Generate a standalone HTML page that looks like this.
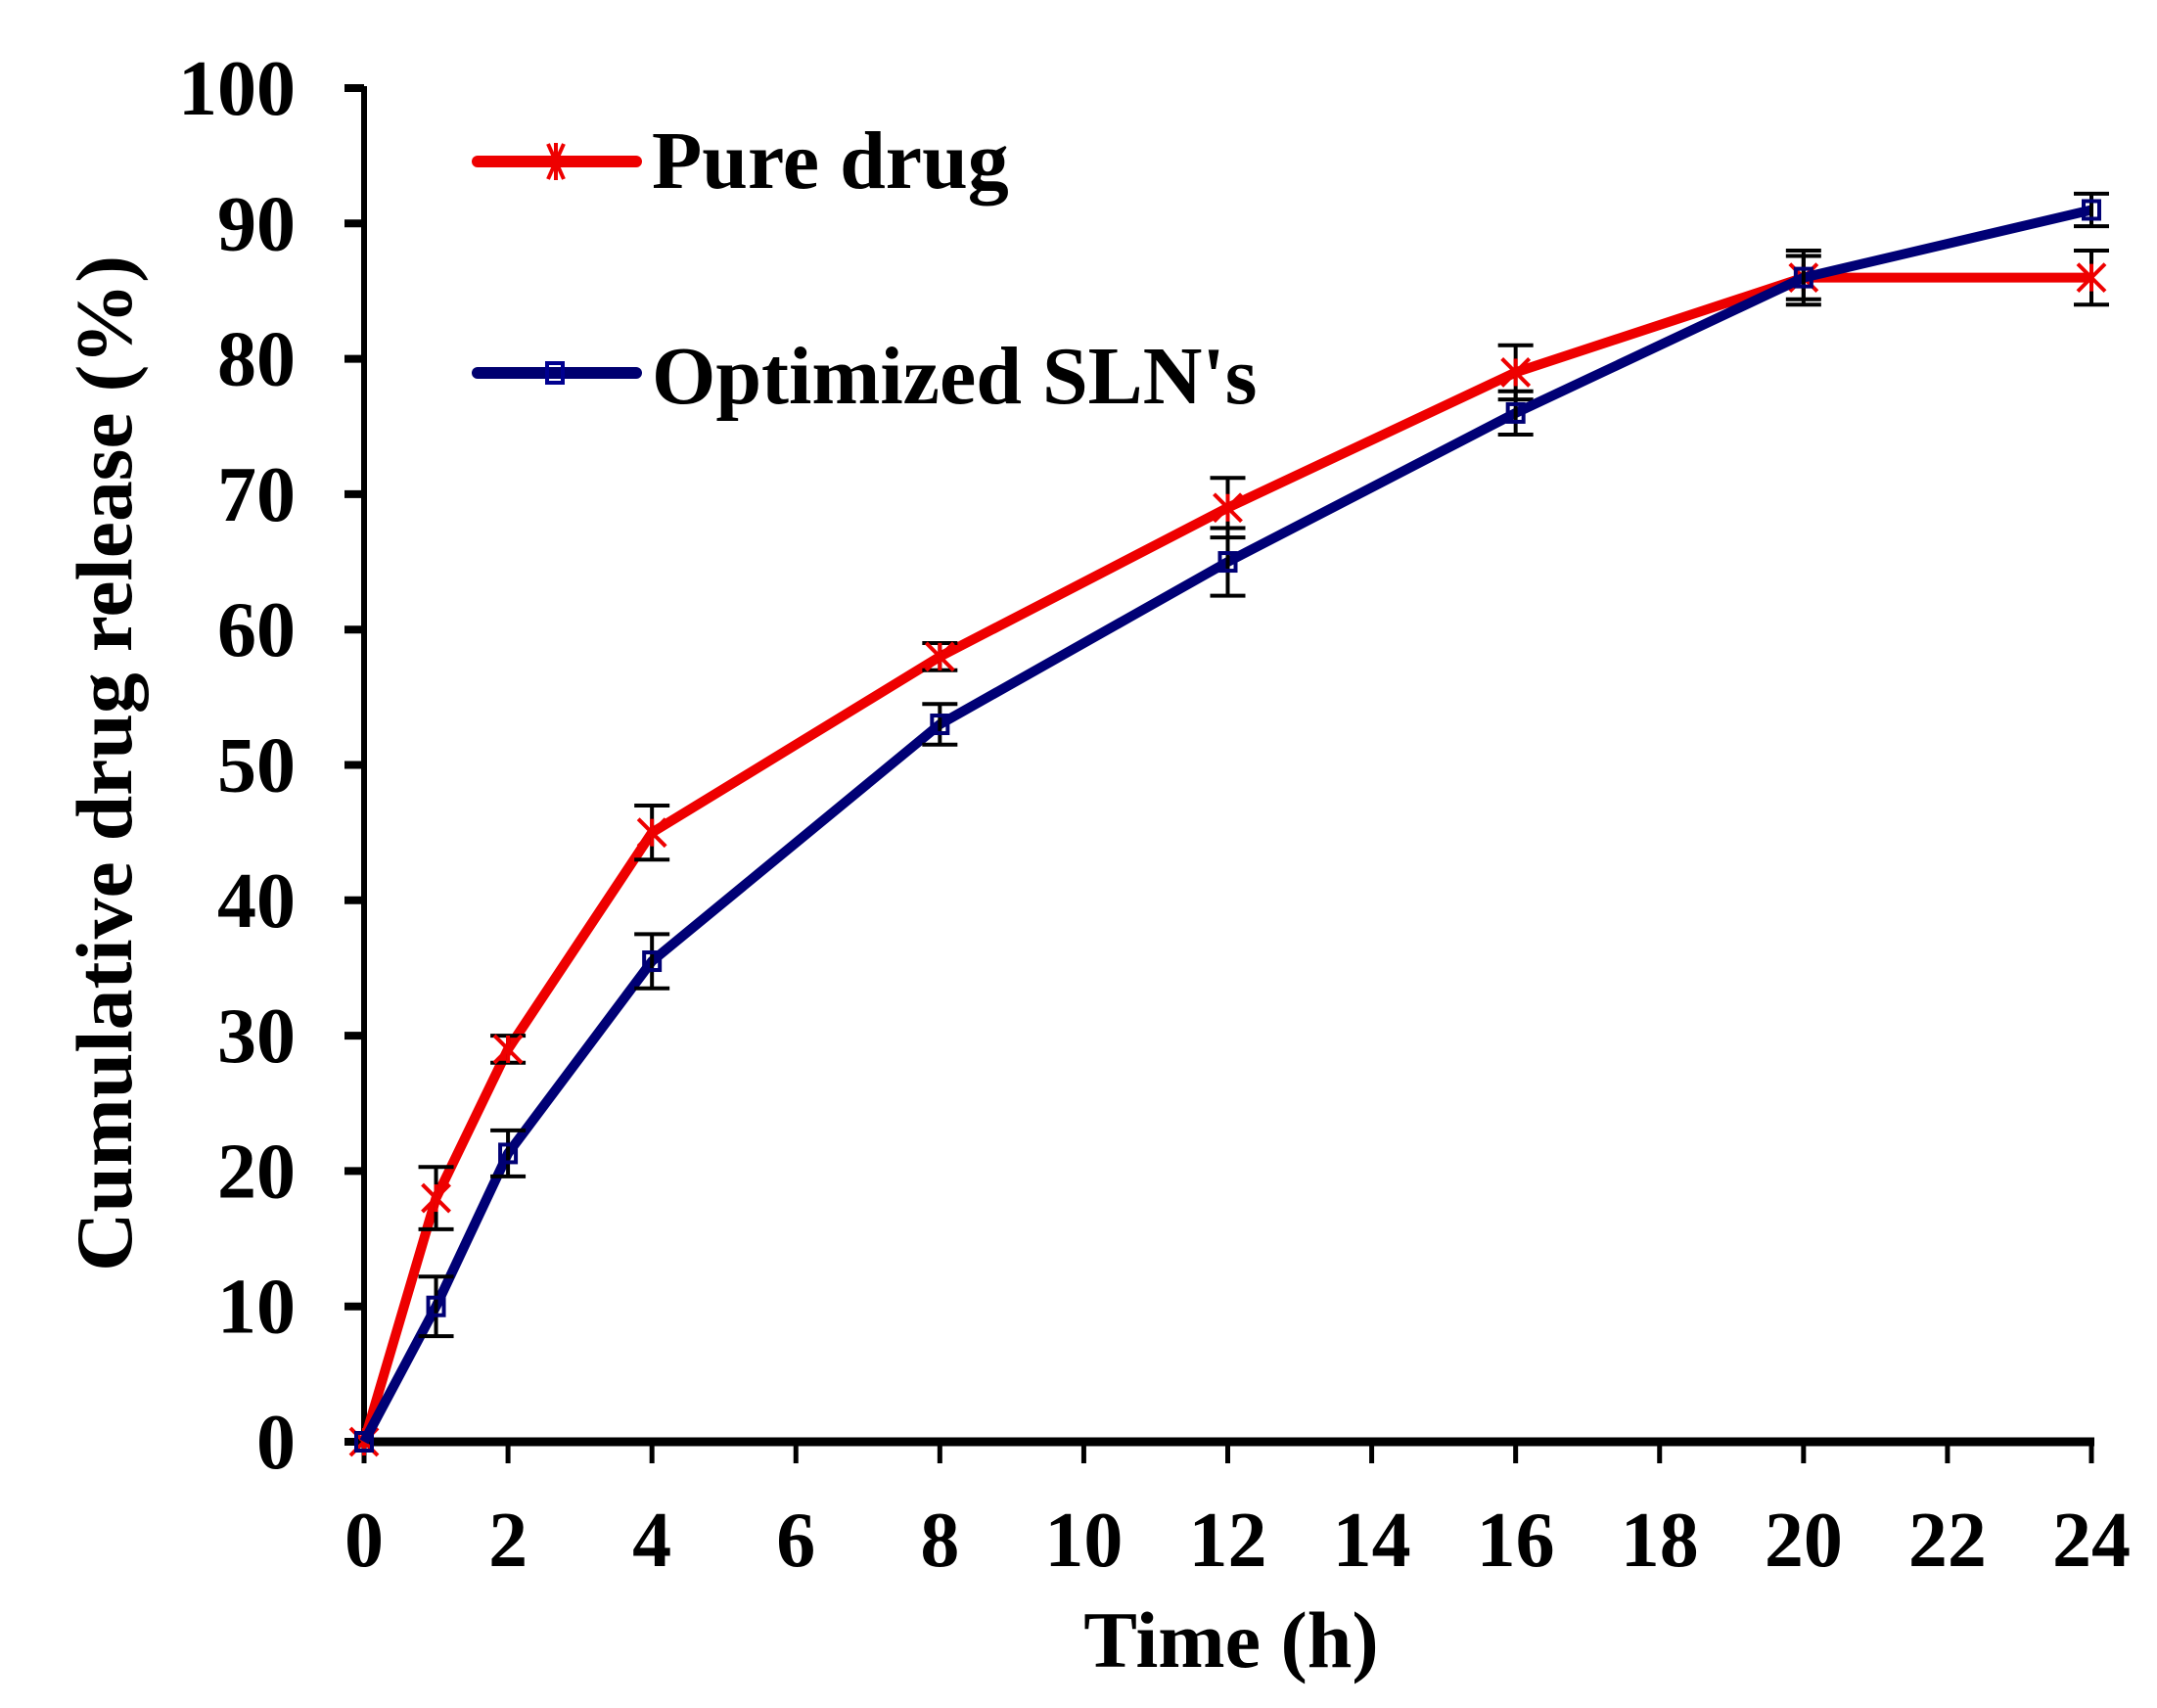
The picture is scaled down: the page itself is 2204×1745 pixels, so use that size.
<!DOCTYPE html>
<html><head><meta charset="utf-8"><style>
html,body{margin:0;padding:0;background:#fff;}
svg{display:block;}
text{font-family:"Liberation Serif",serif;font-weight:bold;fill:#000;}
</style></head><body>
<svg id="chart" width="2204" height="1745" viewBox="0 0 2204 1745" xmlns="http://www.w3.org/2000/svg">
<g id="axes"></g>
<g id="series"></g>
<g id="legend">
  <line x1="488" y1="165" x2="650" y2="165" stroke="#ee0000" stroke-width="12" stroke-linecap="round"/>
  <g stroke="#ee0000" stroke-width="4">
    <line x1="560" y1="147" x2="576" y2="183"/><line x1="576" y1="147" x2="560" y2="183"/><line x1="568" y1="146" x2="568" y2="184"/>
  </g>
  <text x="666" y="192" font-size="84">Pure drug</text>
  <line x1="488" y1="381" x2="650" y2="381" stroke="#000070" stroke-width="12" stroke-linecap="round"/>
  <rect x="559" y="371" width="16" height="20" fill="none" stroke="#000090" stroke-width="4"/>
  <text x="666" y="412" font-size="84">Optimized SLN's</text>
</g>
</svg>
<script>
const times = [0, 1, 2, 4, 8, 12, 16, 20, 24];
const pureValues = [0, 18, 29, 45, 58, 69, 79, 86, 86];
const pureErrors = [0, 2.3, 1, 2, 1, 2.2, 2, 2, 2];
const slnValues = [0, 10, 21.3, 35.5, 53, 65, 76, 86, 91];
const slnErrors = [0, 2.2, 1.7, 2, 1.5, 2.5, 1.6, 1.6, 1.2];
const xTicks = [0, 2, 4, 6, 8, 10, 12, 14, 16, 18, 20, 22, 24];
const yTicks = [0, 10, 20, 30, 40, 50, 60, 70, 80, 90, 100];

const NS = 'http://www.w3.org/2000/svg';
const X0 = 372, X1 = 2137, Y0 = 1473, Y1 = 90;
function xs(v){ return X0 + (v - 0) / 24 * (X1 - X0); }
function ys(v){ return Y0 - v / 100 * (Y0 - Y1); }
function mk(tag, attrs, parent){
  const el = document.createElementNS(NS, tag);
  for (const k in attrs) el.setAttribute(k, attrs[k]);
  parent.appendChild(el);
  return el;
}
const axes = document.getElementById('axes');
const series = document.getElementById('series');

let el = mk('line', {x1: X0, y1: Y1 - 2, x2: X0, y2: Y0 + 4, stroke: '#000', 'stroke-width': 6}, axes);


el = mk('line', {x1: X0 - 6, y1: Y0, x2: xs(24) + 3, y2: Y0, stroke: '#000', 'stroke-width': 9}, axes);



yTicks.forEach(t => {
  const y = ys(t);
  let tk = mk('line', {x1: X0 - 20, y1: y, x2: X0, y2: y, stroke: '#000', 'stroke-width': 8}, axes);
  
  
  let lb = mk('text', {x: 302, y: y + 27, 'font-size': 80, 'text-anchor': 'end'}, axes);
  lb.textContent = t;
  
  
});
xTicks.forEach(t => {
  const x = xs(t);
  let tk = mk('line', {x1: x, y1: Y0, x2: x, y2: Y0 + 22, stroke: '#000', 'stroke-width': 5}, axes);
  
  
  let lb = mk('text', {x: x, y: 1600, 'font-size': 80, 'text-anchor': 'middle'}, axes);
  lb.textContent = t;
  
  
});
el = mk('text', {x: 1258, y: 1703, 'font-size': 82, 'text-anchor': 'middle'}, axes);
el.textContent = 'Time (h)';


el = mk('text', {x: 0, y: 0, 'font-size': 82, 'text-anchor': 'middle', transform: 'translate(134,780) rotate(-90)', textLength: 1038, lengthAdjust: 'spacingAndGlyphs'}, axes);
el.textContent = 'Cumulative drug release (%)';



function drawSeries(vals, errs, color, name, marker){
  const g = mk('g', {}, series);
  
  
  const pts = times.map((t, i) => xs(t) + ',' + ys(vals[i])).join(' ');
  const pl = mk('polyline', {points: pts, fill: 'none', stroke: color, 'stroke-width': 10, 'stroke-linejoin': 'round'}, g);
  
  
  times.forEach((t, i) => {
    const x = xs(t), y = ys(vals[i]);
    if (errs[i] > 0){
      const eg = mk('g', {stroke: '#000', 'stroke-width': 4}, g);
      
      
      const yt = ys(vals[i] + errs[i]), yb = ys(vals[i] - errs[i]);
      mk('line', {x1: x, y1: yt, x2: x, y2: yb}, eg);
      mk('line', {x1: x - 18, y1: yt, x2: x + 18, y2: yt}, eg);
      mk('line', {x1: x - 18, y1: yb, x2: x + 18, y2: yb}, eg);
    }
    let m;
    if (marker === 'star'){
      m = mk('g', {stroke: color, 'stroke-width': 4}, g);
      mk('line', {x1: x - 14, y1: y - 14, x2: x + 14, y2: y + 14}, m);
      mk('line', {x1: x - 14, y1: y + 14, x2: x + 14, y2: y - 14}, m);
      mk('line', {x1: x, y1: y - 14, x2: x, y2: y + 14}, m);
    } else {
      m = mk('rect', {x: x - 8, y: y - 9, width: 16, height: 18, fill: 'none', stroke: color, 'stroke-width': 4}, g);
    }
    
    
  });
}
drawSeries(pureValues, pureErrors, '#ee0000', 'pure-drug', 'star');
drawSeries(slnValues, slnErrors, '#000075', 'optimized-sln', 'square');
</script>
</body></html>
